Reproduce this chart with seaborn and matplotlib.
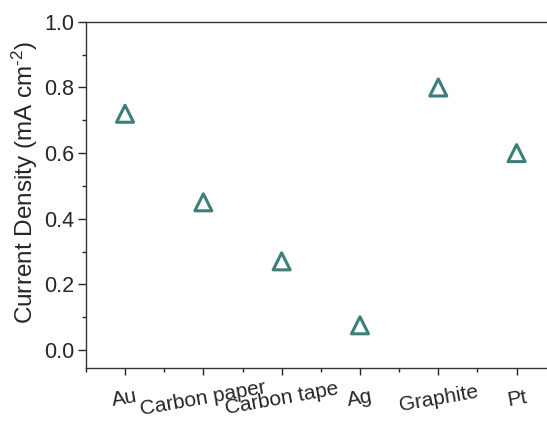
import matplotlib
matplotlib.use("Agg")
import matplotlib.pyplot as plt
import seaborn as sns
import pandas as pd
from matplotlib.ticker import MultipleLocator, FixedLocator

electrodes = ["Au", "Carbon paper", "Carbon tape", "Ag", "Graphite", "Pt"]
current_density = [0.72, 0.45, 0.27, 0.075, 0.80, 0.60]

df = pd.DataFrame({"electrode": electrodes, "j": current_density})

sns.set_style("ticks")
plt.rcParams["font.family"] = ["Liberation Sans", "DejaVu Sans"]
plt.rcParams["mathtext.fontset"] = "custom"
plt.rcParams["mathtext.rm"] = "Liberation Sans"
plt.rcParams["mathtext.it"] = "Liberation Sans:italic"
plt.rcParams["mathtext.bf"] = "Liberation Sans:bold"

fig = plt.figure(figsize=(5.47, 4.21), dpi=100)
ax = fig.add_axes([0.157, 0.126, 1.016 - 0.157, 0.948 - 0.126])

color = "#3c7e79"
sns.scatterplot(data=df, x="electrode", y="j", marker="^", s=150,
                facecolors="none", edgecolor=color, linewidth=2.2, ax=ax,
                legend=False)

ax.set_xlim(-0.5, 5.5)
ax.set_ylim(-0.055, 1.0)
ax.yaxis.set_major_locator(MultipleLocator(0.2))
ax.yaxis.set_minor_locator(MultipleLocator(0.1))
ax.xaxis.set_minor_locator(FixedLocator([i + 0.5 for i in range(-1, 6)]))

ax.set_xlabel("")
ax.set_ylabel("Current Density (mA cm$\\mathregular{^{\\text{-}2}}$)", fontsize=17.5)
ax.yaxis.set_label_coords(-0.098, 0.537)
ax.tick_params(axis="y", which="major", labelsize=15.5, length=5.5, width=1.0, direction="out", pad=3)
ax.tick_params(axis="x", which="major", labelsize=15, length=5, width=1.0, direction="out", pad=17)
ax.tick_params(which="minor", length=2.8, width=1.0, direction="out")
ax.set_yticks(ax.get_yticks())
ax.set_yticklabels([f"{v:.1f}" for v in ax.get_yticks()])
ax.set_ylim(-0.055, 1.0)
for lbl in ax.get_xticklabels():
    lbl.set_rotation(10)
    lbl.set_ha("center")
    lbl.set_va("center")
    lbl.set_rotation_mode("anchor")

for side in ["left", "bottom", "top", "right"]:
    ax.spines[side].set_linewidth(1.0)
    ax.spines[side].set_color("#333333")

fig.savefig("out.png", dpi=100)
